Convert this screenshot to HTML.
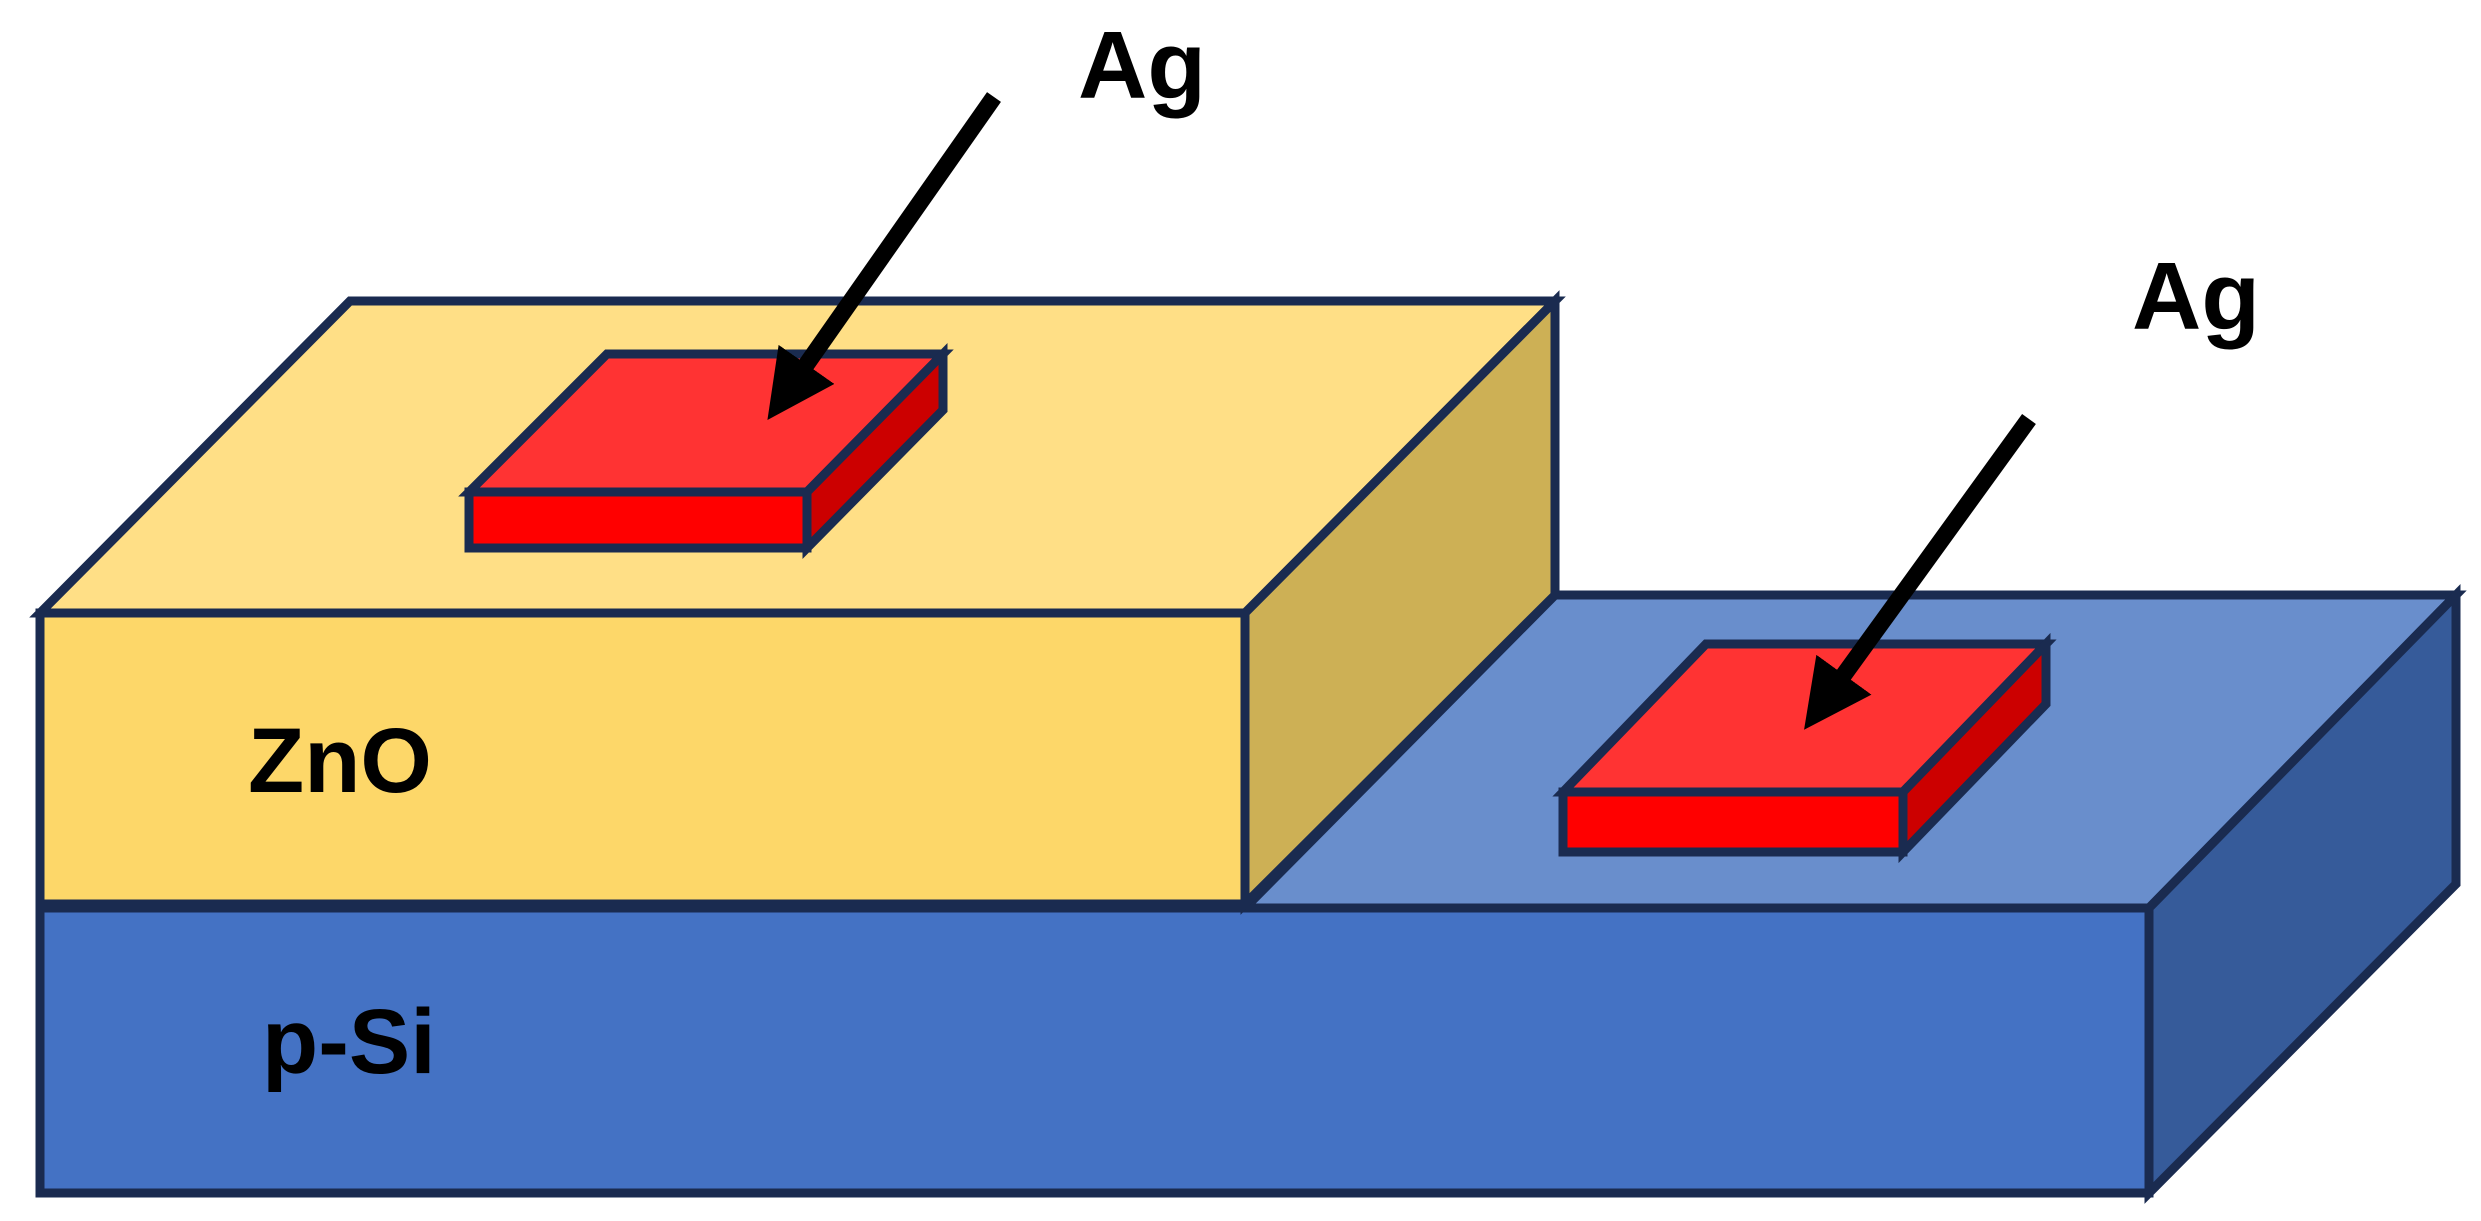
<!DOCTYPE html>
<html><head><style>
html,body{margin:0;padding:0;background:#fff;}
svg{display:block;}
text{font-family:"Liberation Sans",sans-serif;font-weight:bold;fill:#000;}
</style></head><body>
<svg width="2481" height="1221" viewBox="0 0 2481 1221" xmlns="http://www.w3.org/2000/svg">
<defs>
<marker id="ah" markerWidth="4" markerHeight="4" refX="2.2" refY="2" orient="auto" markerUnits="strokeWidth">
<path d="M0,0 L4,2 L0,4 Z" fill="#000"/>
</marker>
</defs>
<g stroke="#1a2b50" stroke-width="9" stroke-linejoin="miter">
<!-- p-Si -->
<polygon points="1245,908 1555,595 2456,595 2149,908" fill="#698ecc"/>
<polygon points="2149,908 2456,595 2456,884 2149,1193" fill="#365b9a"/>
<rect x="40" y="908" width="2109" height="285" fill="#4472c4"/>
<!-- ZnO -->
<polygon points="40,613 350,301 1555,301 1245,613" fill="#ffdf86"/>
<polygon points="1245,613 1555,301 1555,595 1245,904" fill="#cdb055"/>
<rect x="40" y="613" width="1205" height="291" fill="#fdd769"/>
<!-- Ag1 -->
<polygon points="469,492 607,354 943,354 807,492" fill="#ff3333"/>
<polygon points="807,492 943,354 943,410 807,548" fill="#cc0000"/>
<rect x="469" y="492" width="338" height="56" fill="#ff0000"/>
<!-- Ag2 -->
<polygon points="1563,792 1706,644 2046,644 1903,792" fill="#ff3333"/>
<polygon points="1903,792 2046,644 2046,704 1903,852" fill="#cc0000"/>
<rect x="1563" y="792" width="340" height="60" fill="#ff0000"/>
</g>
<!-- arrows -->
<line x1="994" y1="97" x2="785" y2="395" stroke="#000" stroke-width="17" marker-end="url(#ah)"/>
<line x1="2029" y1="419" x2="1822" y2="705" stroke="#000" stroke-width="17" marker-end="url(#ah)"/>
<text x="1078" y="98" font-size="96">Ag</text>
<text x="2132" y="329" font-size="96">Ag</text>
<text x="248" y="792" font-size="92">ZnO</text>
<text x="262" y="1073" font-size="92">p-Si</text>
</svg>
</body></html>
